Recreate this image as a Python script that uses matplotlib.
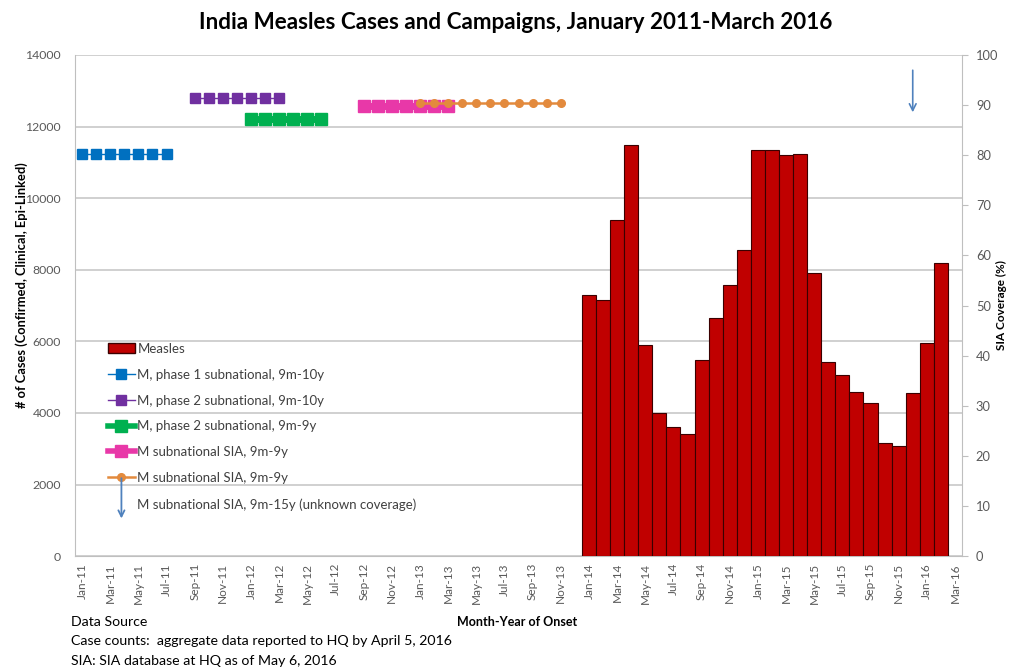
import numpy as np
import pandas as pd
import matplotlib
matplotlib.use("Agg")
import matplotlib.pyplot as plt
from matplotlib.lines import Line2D
from matplotlib.patches import Patch, FancyArrowPatch
from matplotlib.legend_handler import HandlerBase

plt.rcParams["font.family"] = ["Lato", "DejaVu Sans"]

# monthly categories Jan-11 .. Mar-16
months = [d.strftime("%b-%y") for d in pd.date_range("2011-01-01", "2016-03-01", freq="MS")]

# measles cases, Jan-14 .. Feb-16
case_months = months[36:62]
cases = [7280, 7150, 9380, 11480, 5890, 3990, 3600, 3400, 5470, 6650, 7570, 8550, 11340,
         11340, 11200, 11230, 7900, 5420, 5060, 4580, 4270, 3160, 3070, 4550, 5950, 8180]

# SIA campaigns (coverage %)
p1_months = ["Jan-11", "Feb-11", "Mar-11", "Apr-11", "May-11", "Jun-11", "Jul-11"]
p1_cov = [80.2, 80.2, 80.2, 80.2, 80.2, 80.2, 80.2]
p2_months = ["Sep-11", "Oct-11", "Nov-11", "Dec-11", "Jan-12", "Feb-12", "Mar-12"]
p2_cov = [91.4, 91.4, 91.4, 91.4, 91.4, 91.4, 91.4]
p2b_months = ["Jan-12", "Feb-12", "Mar-12", "Apr-12", "May-12", "Jun-12"]
p2b_cov = [87.3, 87.3, 87.3, 87.3, 87.3, 87.3]
sia_a_months = ["Sep-12", "Oct-12", "Nov-12", "Dec-12", "Jan-13", "Feb-13", "Mar-13"]
sia_a_cov = [89.8, 89.8, 89.8, 89.8, 89.8, 89.8, 89.8]
sia_b_months = ["Jan-13", "Feb-13", "Mar-13", "Apr-13", "May-13", "Jun-13", "Jul-13",
                "Aug-13", "Sep-13", "Oct-13", "Nov-13"]
sia_b_cov = [90.4, 90.4, 90.4, 90.4, 90.4, 90.4, 90.4, 90.4, 90.4, 90.4, 90.4]
arrow_month = "Dec-15"
arrow_span = (97.5, 88.0)

pos = {m: i for i, m in enumerate(months)}
grey = "#595959"
arrow_blue = "#4F81BD"


class ArrowHandler(HandlerBase):
    # vertical down arrow reaching up to the row above
    def create_artists(self, legend, orig_handle, xdescent, ydescent, width, height, fontsize, trans):
        mid = height / 2 - ydescent
        a = FancyArrowPatch((width / 2 - xdescent, mid + 1.95 * fontsize),
                            (width / 2 - xdescent, mid - 1.1 * fontsize),
                            arrowstyle="->", mutation_scale=11, color=arrow_blue, lw=1.3,
                            shrinkA=0, shrinkB=0, transform=trans)
        return [a]


fig = plt.figure(figsize=(10.18, 6.70), dpi=100)
ax = fig.add_axes([0.0737, 0.170, 0.8713, 0.748])
ax2 = ax.twinx()

x_cases = [pos[m] for m in case_months]
ax.bar(x_cases, cases, width=1.0, color="#C00000", edgecolor="#3A0000", linewidth=0.8, zorder=3)

ax.set_xlim(-0.5, len(months) - 0.5)
ax.set_ylim(0, 14000)
ax.set_yticks(np.arange(0, 14001, 2000))
ax.grid(axis="y", color="#C8C8C8", linewidth=1.2, zorder=0)
ax.set_axisbelow(True)
ax.set_xticks(range(0, len(months), 2))
ax.set_xticklabels(months[::2], rotation=90, fontsize=8.5, color=grey)
ax.tick_params(axis="x", length=0, pad=5)
ax.tick_params(axis="y", length=0, labelsize=8.8, colors=grey, pad=10)
for s in ["top", "right"]:
    ax.spines[s].set_visible(False)
ax.spines["left"].set_color("#BFBFBF")
ax.spines["bottom"].set_color("#BFBFBF")
ax.set_ylabel("# of Cases (Confirmed, Clinical, Epi-Linked)", fontsize=9.3, fontweight="bold")
ax.yaxis.set_label_coords(-0.053, 0.54)

ax2.set_ylim(0, 100)
ax2.set_yticks(np.arange(0, 101, 10))
ax2.tick_params(axis="y", length=4, color="#BFBFBF", labelsize=9.3, labelcolor=grey, pad=6)
for s in ["top", "left", "bottom"]:
    ax2.spines[s].set_visible(False)
ax2.spines["right"].set_color("#BFBFBF")
ax2.set_ylabel("SIA Coverage (%)", fontsize=8.5, fontweight="bold", rotation=90)
ax2.yaxis.set_label_coords(1.038, 0.5)

ax2.plot([pos[m] for m in p1_months], p1_cov, color="#0070C0", lw=1, marker="s", ms=7)
ax2.plot([pos[m] for m in p2_months], p2_cov, color="#7030A0", lw=1, marker="s", ms=7)
ax2.plot([pos[m] for m in p2b_months], p2b_cov, color="#00B050", lw=5, marker="s", ms=8.8)
ax2.plot([pos[m] for m in sia_a_months], sia_a_cov, color="#E838A8", lw=5, marker="s", ms=8.8)
ax2.plot([pos[m] for m in sia_b_months], sia_b_cov, color="#E38A3D", lw=1.8, marker="o", ms=5.5)
ax2.annotate("", xy=(pos[arrow_month], arrow_span[1]), xytext=(pos[arrow_month], arrow_span[0]),
             arrowprops=dict(arrowstyle="->", color=arrow_blue, lw=1.2, mutation_scale=12))

handles = [
    Patch(facecolor="#C00000", edgecolor="#3A0000"),
    Line2D([], [], color="#0070C0", lw=1, marker="s", ms=7),
    Line2D([], [], color="#7030A0", lw=1, marker="s", ms=7),
    Line2D([], [], color="#00B050", lw=4, marker="s", ms=9),
    Line2D([], [], color="#E838A8", lw=4, marker="s", ms=9),
    Line2D([], [], color="#E38A3D", lw=1.8, marker="o", ms=5.5),
    "arrow",
]
labels = ["Measles", "M, phase 1 subnational, 9m-10y", "M, phase 2 subnational, 9m-10y",
          "M, phase 2 subnational, 9m-9y", "M subnational SIA, 9m-9y", "M subnational SIA, 9m-9y",
          "M subnational SIA, 9m-15y (unknown coverage)"]
fig.legend(handles, labels, loc="upper left", bbox_to_anchor=(0.094, 0.506), frameon=False,
           fontsize=9.5, handlelength=2.1, handleheight=0.8, handletextpad=0.15, labelspacing=1.05,
           labelcolor="#404040", handler_map={str: ArrowHandler()})

fig.text(0.507, 0.966, "India Measles Cases and Campaigns, January 2011-March 2016",
         ha="center", va="center", fontsize=16.2, fontweight="bold")
fig.text(0.508, 0.072, "Month-Year of Onset", ha="center", va="center", fontsize=9, fontweight="bold")
fig.text(0.070, 0.072, "Data Source", ha="left", va="center", fontsize=10.2)
fig.text(0.070, 0.043, "Case counts:  aggregate data reported to HQ by April 5, 2016", ha="left",
         va="center", fontsize=10.2)
fig.text(0.070, 0.013, "SIA: SIA database at HQ as of May 6, 2016", ha="left", va="center", fontsize=10.2)

fig.savefig("out.png", dpi=100)
